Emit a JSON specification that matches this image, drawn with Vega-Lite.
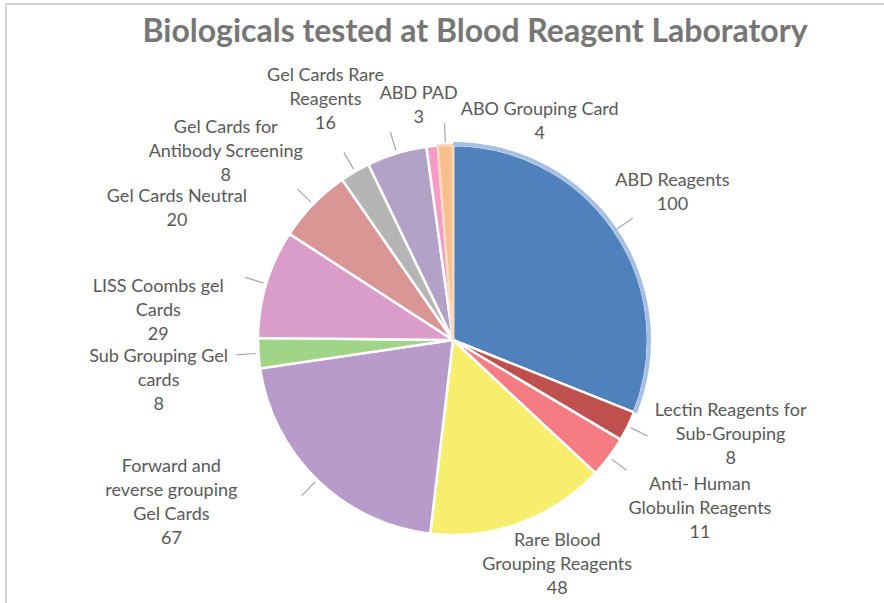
{
  "$schema": "https://vega.github.io/schema/vega-lite/v6.json",
  "width": 894,
  "height": 672,
  "autosize": "none",
  "padding": {"left": 6, "top": 4, "right": 0, "bottom": 0},
  "background": "white",
  "view": {"stroke": "#C6C6C6", "strokeWidth": 1.5},
  "config": {
    "view": {"stroke": "#C6C6C6", "strokeWidth": 1.5},
    "text": {"font": "Lato", "fontSize": 18, "fill": "#595959", "align": "center", "baseline": "middle", "lineBreak": "\n", "lineHeight": 24}
  },
  "title": {
    "text": "Biologicals tested at Blood Reagent Laboratory",
    "font": "Lato",
    "fontSize": 32,
    "fontWeight": "bold",
    "color": "#767676",
    "anchor": "middle",
    "frame": "group",
    "offset": -46,
    "dx": 22
  },
  "data": {
    "values": [
      {"name": "ABD Reagents", "lines": "ABD Reagents", "value": 100},
      {"name": "Lectin Reagents for Sub-Grouping", "lines": "Lectin Reagents for\nSub-Grouping", "value": 8},
      {"name": "Anti- Human Globulin Reagents", "lines": "Anti- Human\nGlobulin Reagents", "value": 11},
      {"name": "Rare Blood Grouping Reagents", "lines": "Rare Blood\nGrouping Reagents", "value": 48},
      {"name": "Forward and reverse grouping Gel Cards", "lines": "Forward and\nreverse grouping\nGel Cards", "value": 67},
      {"name": "Sub Grouping Gel cards", "lines": "Sub Grouping Gel\ncards", "value": 8},
      {"name": "LISS Coombs gel Cards", "lines": "LISS Coombs gel\nCards", "value": 29},
      {"name": "Gel Cards Neutral", "lines": "Gel Cards Neutral", "value": 20},
      {"name": "Gel Cards for Antibody Screening", "lines": "Gel Cards for\nAntibody Screening", "value": 8},
      {"name": "Gel Cards Rare Reagents", "lines": "Gel Cards Rare\nReagents", "value": 16},
      {"name": "ABD PAD", "lines": "ABD PAD", "value": 3},
      {"name": "ABO Grouping Card", "lines": "ABO Grouping Card", "value": 4}
    ]
  },
  "transform": [
    {"window": [{"op": "row_number", "as": "idx"}]},
    {"calculate": "datum.lines + '\\n' + datum.value", "as": "txt"}
  ],
  "encoding": {
    "theta": {"field": "value", "type": "quantitative", "stack": true, "scale": {"nice": false}},
    "order": {"field": "idx", "type": "quantitative"}
  },
  "layer": [
    {
      "mark": {"type": "arc", "outerRadius": 195, "strokeWidth": 2.5},
      "encoding": {
        "color": {
          "field": "name",
          "type": "nominal",
          "legend": null,
          "scale": {
            "domain": ["ABD Reagents", "Lectin Reagents for Sub-Grouping", "Anti- Human Globulin Reagents", "Rare Blood Grouping Reagents", "Forward and reverse grouping Gel Cards", "Sub Grouping Gel cards", "LISS Coombs gel Cards", "Gel Cards Neutral", "Gel Cards for Antibody Screening", "Gel Cards Rare Reagents", "ABD PAD", "ABO Grouping Card"],
            "range": ["#4F81BD", "#C0504D", "#F47C82", "#F8EE6E", "#B69BCB", "#A0D487", "#DA9CC8", "#D99694", "#B5B5B5", "#B3A2C7", "#F59AC6", "#F8BF8E"]
          }
        },
        "stroke": {"condition": {"test": "datum.name === 'ABO Grouping Card'", "value": "#FCD9BC"}, "value": "#FFFFFF"}
      }
    },
    {
      "mark": {"type": "arc", "innerRadius": 194, "outerRadius": 198},
      "encoding": {
        "detail": {"field": "name"},
        "fill": {"condition": {"test": "datum.name === 'ABD Reagents'", "value": "#A7C0E2"}, "value": "rgba(255,255,255,0)"}
      }
    },
    {
      "mark": {"type": "arc", "innerRadius": 198, "outerRadius": 217, "padAngle": 3, "strokeWidth": 1.2, "fill": null},
      "encoding": {
        "detail": {"field": "name"},
        "stroke": {"condition": {"test": "datum.name === 'ABD PAD' || datum.name === 'Rare Blood Grouping Reagents'", "value": "rgba(255,255,255,0)"}, "value": "#A6A6A6"}
      }
    },
    {"mark": {"type": "text", "radius": 265, "dx": 0, "dy": -10},
     "encoding": {"detail": {"field": "name"}, "text": {"condition": {"test": "datum.name === 'ABD Reagents'", "field": "txt"}, "value": ""}}},
    {"mark": {"type": "text", "radius": 265, "dx": 40, "dy": -46},
     "encoding": {"detail": {"field": "name"}, "text": {"condition": {"test": "datum.name === 'Lectin Reagents for Sub-Grouping'", "field": "txt"}, "value": ""}}},
    {"mark": {"type": "text", "radius": 265, "dx": 35, "dy": -14},
     "encoding": {"detail": {"field": "name"}, "text": {"condition": {"test": "datum.name === 'Anti- Human Globulin Reagents'", "field": "txt"}, "value": ""}}},
    {"mark": {"type": "text", "radius": 265, "dx": 13, "dy": -48},
     "encoding": {"detail": {"field": "name"}, "text": {"condition": {"test": "datum.name === 'Rare Blood Grouping Reagents'", "field": "txt"}, "value": ""}}},
    {"mark": {"type": "text", "radius": 265, "dx": -97, "dy": -63},
     "encoding": {"detail": {"field": "name"}, "text": {"condition": {"test": "datum.name === 'Forward and reverse grouping Gel Cards'", "field": "txt"}, "value": ""}}},
    {"mark": {"type": "text", "radius": 265, "dx": -30, "dy": -1},
     "encoding": {"detail": {"field": "name"}, "text": {"condition": {"test": "datum.name === 'Sub Grouping Gel cards'", "field": "txt"}, "value": ""}}},
    {"mark": {"type": "text", "radius": 265, "dx": -41, "dy": 23},
     "encoding": {"detail": {"field": "name"}, "text": {"condition": {"test": "datum.name === 'LISS Coombs gel Cards'", "field": "txt"}, "value": ""}}},
    {"mark": {"type": "text", "radius": 265, "dx": -86, "dy": 42},
     "encoding": {"detail": {"field": "name"}, "text": {"condition": {"test": "datum.name === 'Gel Cards Neutral'", "field": "txt"}, "value": ""}}},
    {"mark": {"type": "text", "radius": 265, "dx": -94, "dy": 17},
     "encoding": {"detail": {"field": "name"}, "text": {"condition": {"test": "datum.name === 'Gel Cards for Antibody Screening'", "field": "txt"}, "value": ""}}},
    {"mark": {"type": "text", "radius": 265, "dx": -51, "dy": -10},
     "encoding": {"detail": {"field": "name"}, "text": {"condition": {"test": "datum.name === 'Gel Cards Rare Reagents'", "field": "txt"}, "value": ""}}},
    {"mark": {"type": "text", "radius": 265, "dx": -6, "dy": 17},
     "encoding": {"detail": {"field": "name"}, "text": {"condition": {"test": "datum.name === 'ABD PAD'", "field": "txt"}, "value": ""}}},
    {"mark": {"type": "text", "radius": 265, "dx": 97, "dy": 35},
     "encoding": {"detail": {"field": "name"}, "text": {"condition": {"test": "datum.name === 'ABO Grouping Card'", "field": "txt"}, "value": ""}}}
  ]
}
